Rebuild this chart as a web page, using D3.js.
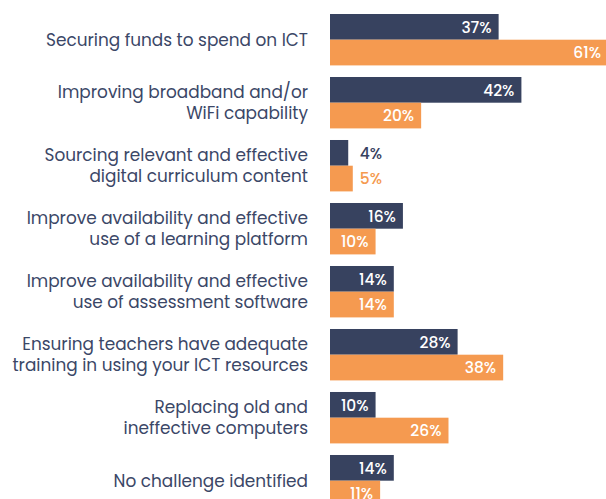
<!DOCTYPE html>
<html>
<head>
<meta charset="utf-8">
<script src="https://cdn.jsdelivr.net/npm/d3@7"></script>
<style>
  body { margin: 0; background: #fff; }
  svg { display: block; font-family: Poppins, Inter, sans-serif; }
</style>
</head>
<body>
<div id="chart"></div>
<script>
const categories = [
  ['Securing funds to spend on ICT'],
  ['Improving broadband and/or', 'WiFi capability'],
  ['Sourcing relevant and effective', 'digital curriculum content'],
  ['Improve availability and effective', 'use of a learning platform'],
  ['Improve availability and effective', 'use of assessment software'],
  ['Ensuring teachers have adequate', 'training in using your ICT resources'],
  ['Replacing old and', 'ineffective computers'],
  ['No challenge identified']
];
const seriesA = [37, 42, 4, 16, 14, 28, 10, 14];   // navy
const seriesB = [61, 20, 5, 10, 14, 38, 26, 11];   // orange
const seriesColors = ['#37425f', '#f59a50'];

const width = 606;
const height = 499;
const labelColor = '#3b4767';

const svg = d3.select('#chart')
  .append('svg')
  .attr('width', width)
  .attr('height', height);

const keys = categories.map((c, i) => i);

const y = d3.scaleBand()
  .domain(keys)
  .range([14, 506.4])
  .paddingInner(0.184)
  .paddingOuter(0);

const ySub = d3.scaleBand()
  .domain([0, 1])
  .range([0, y.bandwidth()]);

const x = d3.scaleLinear()
  .domain([0, 61])
  .range([330, 608]);

const rows = keys.map(i => ({ i, label: categories[i], vals: [seriesA[i], seriesB[i]] }));

const group = svg.selectAll('.group')
  .data(rows)
  .enter()
  .append('g')
  .attr('class', 'group')
  .attr('transform', d => `translate(0,${y(d.i)})`);

// category labels, one tspan per line
group.append('text')
  .attr('text-anchor', 'end')
  .attr('x', 308)
  .attr('fill', labelColor)
  .attr('font-size', '16.9px')
  .each(function(d) {
    const t = d3.select(this);
    const lh = 21;
    const start = y.bandwidth() / 2 - (d.label.length - 1) * lh / 2;
    d.label.forEach((line, k) => {
      t.append('tspan')
        .attr('x', 308)
        .attr('y', start + k * lh)
        .attr('dy', '0.36em')
        .text(line);
    });
  });

// bars
group.selectAll('rect')
  .data(d => d.vals.map((v, s) => ({ v, s, max: d3.max(d.vals) })))
  .enter()
  .append('rect')
  .attr('x', x(0))
  .attr('y', d => ySub(d.s))
  .attr('width', d => x(d.v) - x(0))
  .attr('height', ySub.bandwidth())
  .attr('fill', d => seriesColors[d.s]);

// value labels: inside the bar in white, or past the pair when the bar is short
group.selectAll('.val')
  .data(d => d.vals.map((v, s) => ({ v, s, max: d3.max(d.vals) })))
  .enter()
  .append('text')
  .attr('class', 'val')
  .attr('y', d => ySub(d.s) + ySub.bandwidth() / 2)
  .attr('dy', '0.37em')
  .attr('font-size', '15.5px')
  .attr('font-weight', 500)
  .each(function(d) {
    const inside = x(d.v) - x(0) > 40;
    d3.select(this)
      .attr('x', inside ? x(d.v) - 7 : x(d.max) + 7)
      .attr('text-anchor', inside ? 'end' : 'start')
      .attr('fill', inside ? '#ffffff' : seriesColors[d.s]);
  })
  .text(d => d.v + '%');
</script>
</body>
</html>
